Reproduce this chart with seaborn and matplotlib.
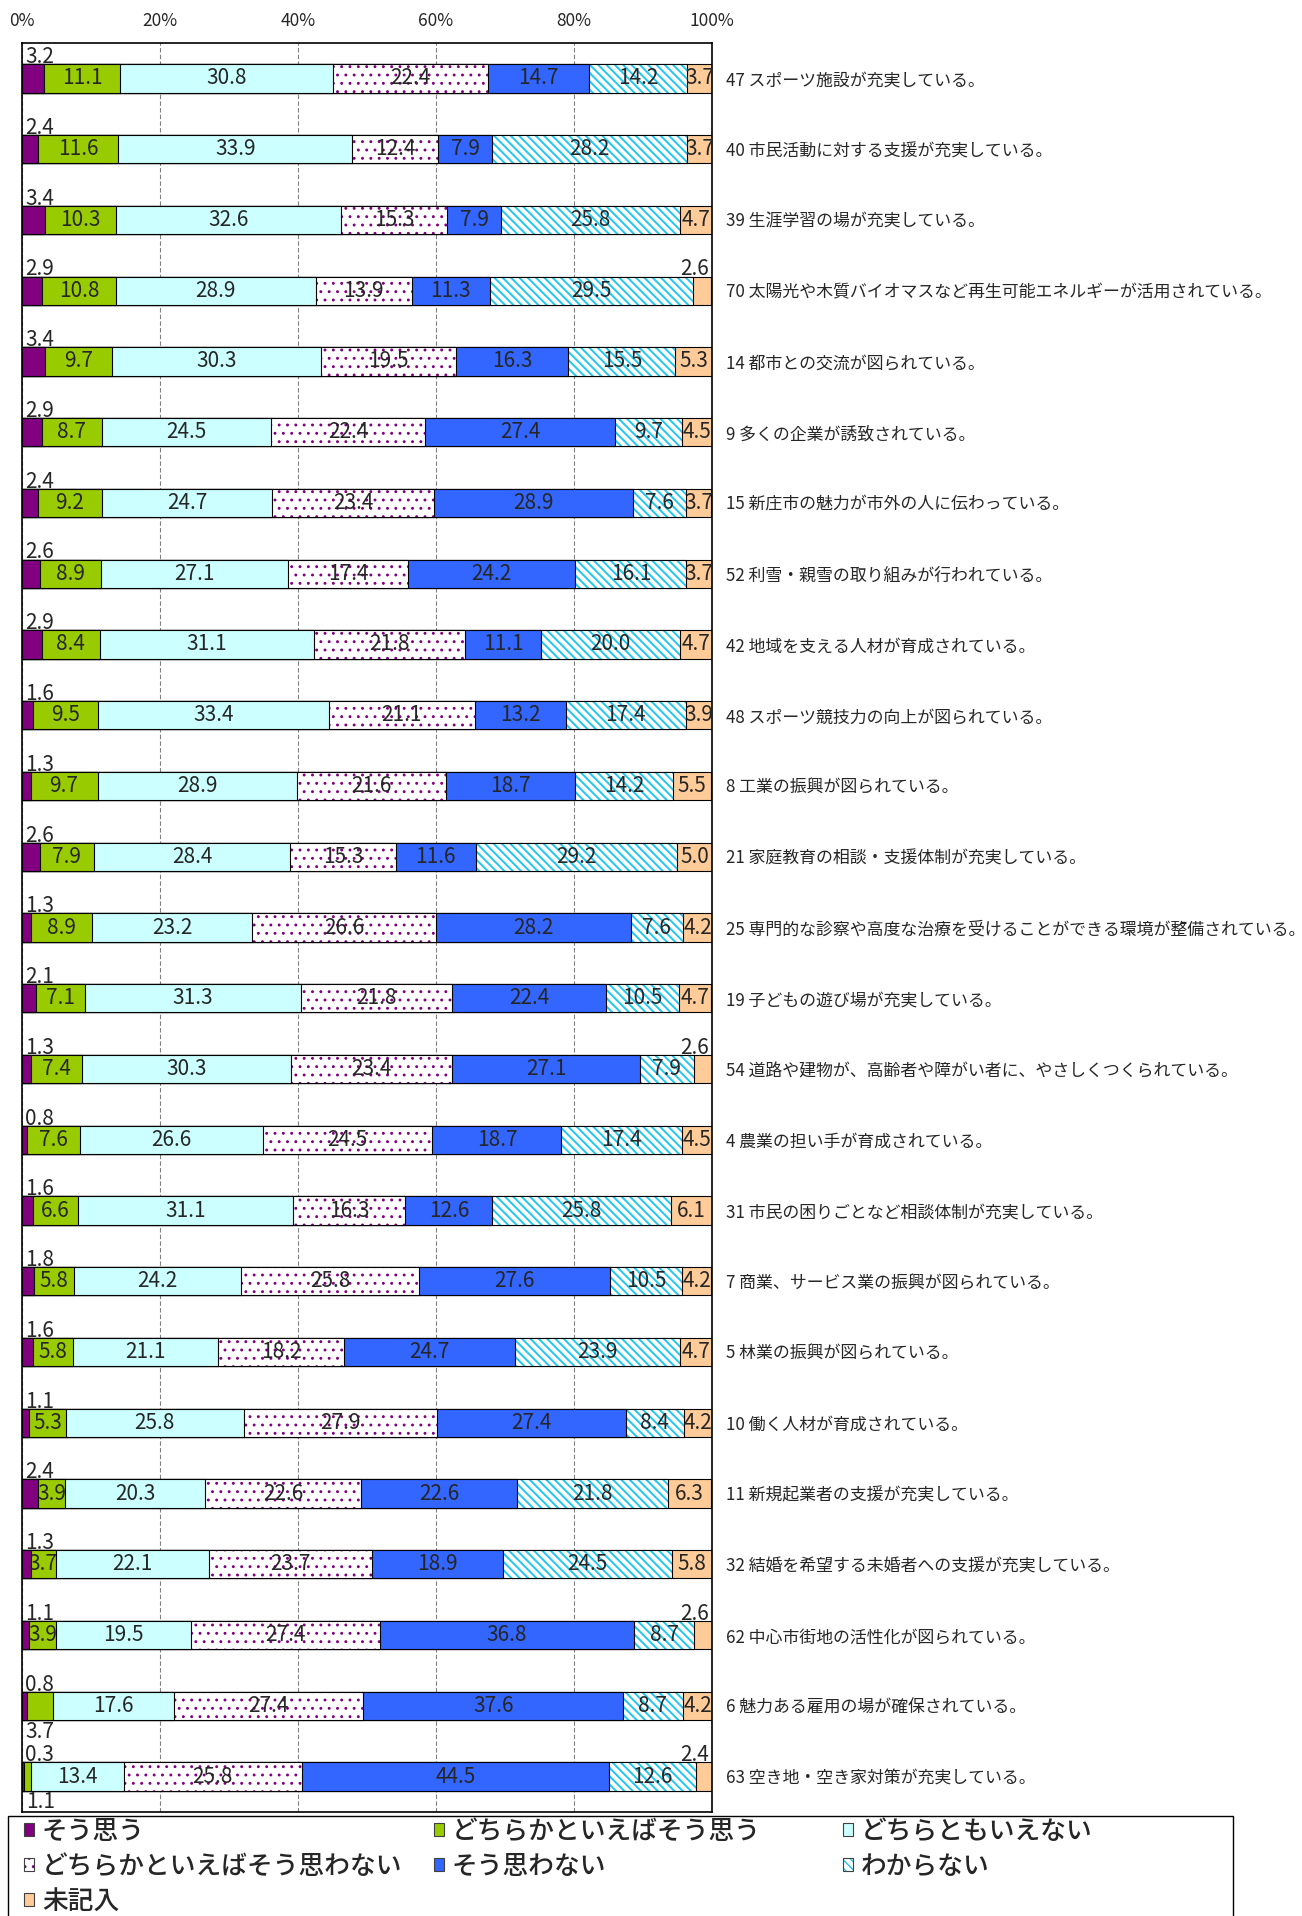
import numpy as np
import pandas as pd
import matplotlib
matplotlib.use("Agg")
import matplotlib.pyplot as plt
import matplotlib.colors as mcolors
from matplotlib.patches import Patch, Rectangle
import seaborn as sns

# ---- data (top row first) ----
items = [
    "47 スポーツ施設が充実している。",
    "40 市民活動に対する支援が充実している。",
    "39 生涯学習の場が充実している。",
    "70 太陽光や木質バイオマスなど再生可能エネルギーが活用されている。",
    "14 都市との交流が図られている。",
    "9 多くの企業が誘致されている。",
    "15 新庄市の魅力が市外の人に伝わっている。",
    "52 利雪・親雪の取り組みが行われている。",
    "42 地域を支える人材が育成されている。",
    "48 スポーツ競技力の向上が図られている。",
    "8 工業の振興が図られている。",
    "21 家庭教育の相談・支援体制が充実している。",
    "25 専門的な診察や高度な治療を受けることができる環境が整備されている。",
    "19 子どもの遊び場が充実している。",
    "54 道路や建物が、高齢者や障がい者に、やさしくつくられている。",
    "4 農業の担い手が育成されている。",
    "31 市民の困りごとなど相談体制が充実している。",
    "7 商業、サービス業の振興が図られている。",
    "5 林業の振興が図られている。",
    "10 働く人材が育成されている。",
    "11 新規起業者の支援が充実している。",
    "32 結婚を希望する未婚者への支援が充実している。",
    "62 中心市街地の活性化が図られている。",
    "6 魅力ある雇用の場が確保されている。",
    "63 空き地・空き家対策が充実している。",
]

categories = ["そう思う", "どちらかといえばそう思う", "どちらともいえない",
              "どちらかといえばそう思わない", "そう思わない", "わからない", "未記入"]

sou_omou = [3.2, 2.4, 3.4, 2.9, 3.4, 2.9, 2.4, 2.6, 2.9, 1.6, 1.3, 2.6, 1.3,
            2.1, 1.3, 0.8, 1.6, 1.8, 1.6, 1.1, 2.4, 1.3, 1.1, 0.8, 0.3]
yaya_sou = [11.1, 11.6, 10.3, 10.8, 9.7, 8.7, 9.2, 8.9, 8.4, 9.5, 9.7, 7.9, 8.9,
            7.1, 7.4, 7.6, 6.6, 5.8, 5.8, 5.3, 3.9, 3.7, 3.9, 3.7, 1.1]
dochira_tomo = [30.8, 33.9, 32.6, 28.9, 30.3, 24.5, 24.7, 27.1, 31.1, 33.4, 28.9, 28.4, 23.2,
                31.3, 30.3, 26.6, 31.1, 24.2, 21.1, 25.8, 20.3, 22.1, 19.5, 17.6, 13.4]
yaya_omowanai = [22.4, 12.4, 15.3, 13.9, 19.5, 22.4, 23.4, 17.4, 21.8, 21.1, 21.6, 15.3, 26.6,
                 21.8, 23.4, 24.5, 16.3, 25.8, 18.2, 27.9, 22.6, 23.7, 27.4, 27.4, 25.8]
sou_omowanai = [14.7, 7.9, 7.9, 11.3, 16.3, 27.4, 28.9, 24.2, 11.1, 13.2, 18.7, 11.6, 28.2,
                22.4, 27.1, 18.7, 12.6, 27.6, 24.7, 27.4, 22.6, 18.9, 36.8, 37.6, 44.5]
wakaranai = [14.2, 28.2, 25.8, 29.5, 15.5, 9.7, 7.6, 16.1, 20.0, 17.4, 14.2, 29.2, 7.6,
             10.5, 7.9, 17.4, 25.8, 10.5, 23.9, 8.4, 21.8, 24.5, 8.7, 8.7, 12.6]
mikinyu = [3.7, 3.7, 4.7, 2.6, 5.3, 4.5, 3.7, 3.7, 4.7, 3.9, 5.5, 5.0, 4.2,
           4.7, 2.6, 4.5, 6.1, 4.2, 4.7, 4.2, 6.3, 5.8, 2.6, 4.2, 2.4]

series = [sou_omou, yaya_sou, dochira_tomo, yaya_omowanai, sou_omowanai, wakaranai, mikinyu]
tick_pct = [0, 20, 40, 60, 80, 100]

# ---- style ----
face_colors = ["#800080", "#99CC00", "#CCFFFF", "#FFFFFF", "#3366FF", "#FFFFFF", "#FFCC99"]
hatch_styles = [None, None, None, "..", None, "\\\\\\\\", None]
hatch_colors = [None, None, None, "#800080", None, "#1EC8F0", None]
hatch_widths = [None, None, None, 0.9, None, 1.4, None]

sns.set_theme(style="white")
plt.rcParams["font.family"] = ["Noto Sans CJK JP", "DejaVu Sans"]

W, H = 1302, 1916
fig = plt.figure(figsize=(W / 100, H / 100), dpi=100)
ax = fig.add_axes([21.6 / W, 1 - 1812 / H, (712 - 21.6) / W, (1812 - 43) / H])

df = pd.DataFrame({"item": items})
for cat, vals in zip(categories, series):
    df[cat] = vals
cum = df[categories].cumsum(axis=1)

# stacked bars: draw cumulative bars longest first
for k in reversed(range(len(categories))):
    part = pd.DataFrame({"item": items, "x": cum[categories[k]]})
    if hatch_styles[k]:
        with plt.rc_context({"hatch.linewidth": hatch_widths[k]}):
            sns.barplot(data=part, x="x", y="item", orient="h", width=0.4,
                        color=face_colors[k], saturation=1, errorbar=None,
                        edgecolor=hatch_colors[k], hatch=hatch_styles[k],
                        linewidth=0, ax=ax)
        sns.barplot(data=part, x="x", y="item", orient="h", width=0.4,
                    color="black", fill=False, errorbar=None, linewidth=0.8, ax=ax)
    else:
        sns.barplot(data=part, x="x", y="item", orient="h", width=0.4,
                    color=face_colors[k], saturation=1, errorbar=None,
                    edgecolor="black", linewidth=0.8, ax=ax)

# value labels
below_green = {23, 24}
for i in range(len(items)):
    left = 0.0
    for k, vals in enumerate(series):
        v = vals[i]
        txt = f"{v:.1f}"
        if k == 0:
            ax.text(0.5, i - 0.215, txt, ha="left", va="baseline", fontsize=15)
        elif k == 1 and i in below_green:
            ax.text(0.6, i + 0.45, txt, ha="left", va="baseline", fontsize=15)
        elif k == 6 and v < 3:
            ax.text(99.6, i - 0.215, txt, ha="right", va="baseline", fontsize=15)
        else:
            ax.text(left + v / 2, i, txt, ha="center", va="center", fontsize=15)
        left += v

ax.set_xlim(0, 100)
ax.set_ylim(len(items) - 0.5, -0.5)
ax.set_xlabel("")
ax.set_ylabel("")
ax.xaxis.tick_top()
ax.set_xticks(tick_pct)
ax.set_xticklabels([f"{t}%" for t in tick_pct])
ax.tick_params(axis="x", length=0, pad=9, labelsize=12.5)
ax.yaxis.tick_right()
ax.tick_params(axis="y", length=0, pad=10, labelsize=12.2)
ax.set_axisbelow(True)
ax.xaxis.grid(True, color="#808080", linestyle=(0, (4, 2)), linewidth=0.8)
ax.yaxis.grid(False)
for s in ax.spines.values():
    s.set_color("black")
    s.set_linewidth(1.2)

# legend
handles = []
for k, cat in enumerate(categories):
    h = Patch(facecolor=face_colors[k], edgecolor="#404040", linewidth=0.8,
              hatch=hatch_styles[k], label=cat)
    if hatch_colors[k]:
        h._hatch_color = mcolors.to_rgba(hatch_colors[k])
    handles.append(h)

columns = [[0, 3, 6], [1, 4], [2, 5]]
col_x = [24, 434, 843]
for idx, x0 in zip(columns, col_x):
    leg = fig.legend(handles=[handles[j] for j in idx], loc="upper left",
                     bbox_to_anchor=(x0 / W, 1 - 1818 / H), frameon=False,
                     fontsize=18.5, handlelength=0.4, handleheight=0.4,
                     handletextpad=0.3, labelspacing=0.3, borderpad=0,
                     borderaxespad=0)
    for t in leg.get_texts():
        t.set_fontweight("medium")

fig.add_artist(Rectangle((8 / W, -0.02), (1233 - 8) / W, (1916 - 1816) / H + 0.02,
                         transform=fig.transFigure, fill=False,
                         edgecolor="black", linewidth=1))

fig.savefig("out.png", dpi=100)
